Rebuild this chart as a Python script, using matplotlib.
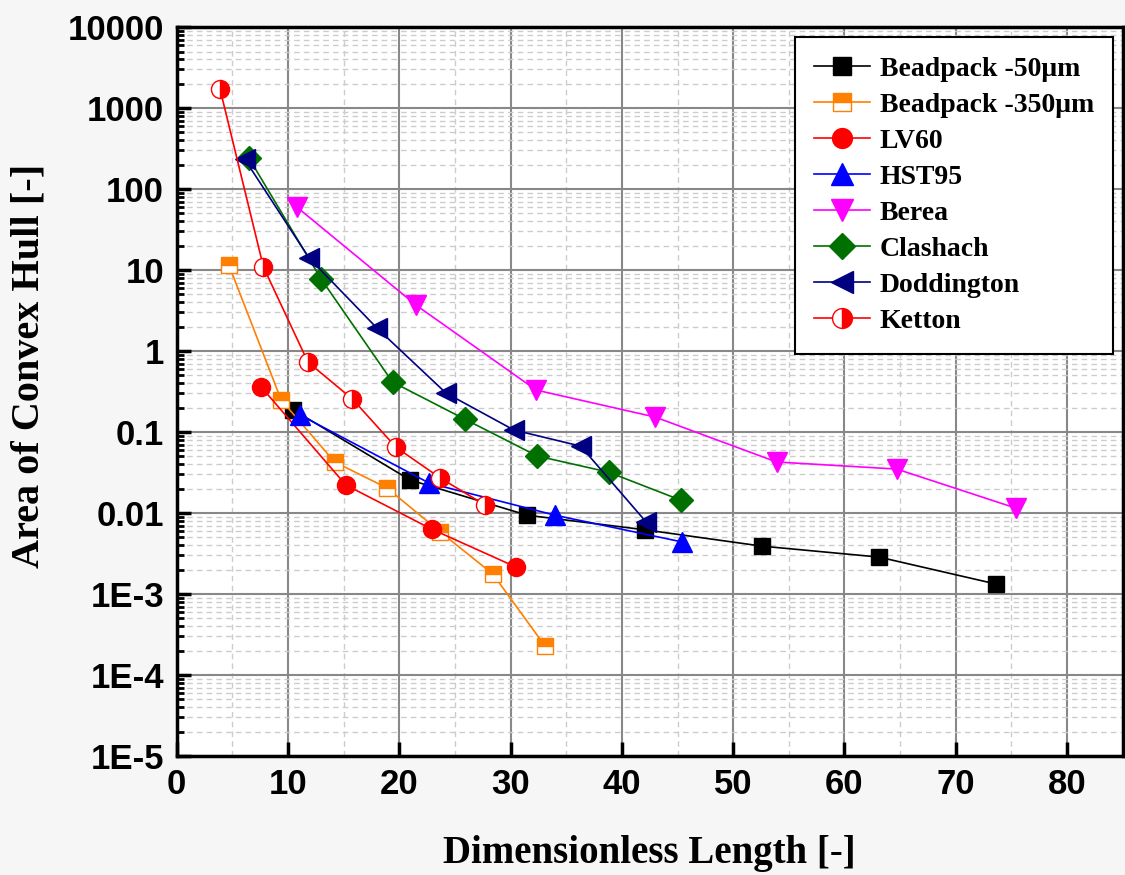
import matplotlib.pyplot as plt
from matplotlib.ticker import LogLocator, FixedLocator, NullFormatter

# data
bead50_x = [10.5, 21.0, 31.5, 42.1, 52.6, 63.1, 73.6]
bead50_y = [0.187, 0.0255, 0.0094, 0.0062, 0.0039, 0.00286, 0.00133]

bead350_x = [4.7, 9.4, 14.2, 18.9, 23.7, 28.4, 33.1]
bead350_y = [11.5, 0.248, 0.0427, 0.0204, 0.00582, 0.00177, 0.000228]

lv60_x = [7.6, 15.2, 22.9, 30.5]
lv60_y = [0.36, 0.0222, 0.00634, 0.00215]

hst95_x = [11.1, 22.7, 34.0, 45.4]
hst95_y = [0.162, 0.0234, 0.0094, 0.0044]

berea_x = [10.8, 21.5, 32.3, 43.0, 53.9, 64.7, 75.4]
berea_y = [60, 3.7, 0.33, 0.153, 0.0427, 0.0349, 0.0115]

clashach_x = [6.5, 13.0, 19.4, 25.9, 32.4, 38.8, 45.3]
clashach_y = [241, 7.7, 0.414, 0.144, 0.0506, 0.032, 0.0144]

dodd_x = [6.1, 11.9, 18.0, 24.2, 30.3, 36.3, 42.2]
dodd_y = [236, 14.1, 1.92, 0.303, 0.106, 0.067, 0.0077]

ketton_x = [3.9, 7.8, 11.8, 15.8, 19.7, 23.7, 27.7]
ketton_y = [1718, 10.9, 0.73, 0.255, 0.065, 0.027, 0.0126]

serif = "Liberation Serif"
sans = "Liberation Sans"

fig = plt.figure(figsize=(11.25, 8.75), dpi=100, facecolor="#f6f6f6")
ax = fig.add_axes([0.157, 0.136, 0.841, 0.833])
ax.set_facecolor("white")

lw = 1.2
ax.plot(bead50_x, bead50_y, "-s", color="black", lw=lw, ms=12,
        label="Beadpack -50\u03bcm", zorder=3)
ax.plot(bead350_x, bead350_y, "-s", color="#ff7f00", lw=lw, ms=12,
        fillstyle="top", markerfacecoloralt="white", mec="#ff7f00",
        label="Beadpack -350\u03bcm", zorder=3)
ax.plot(lv60_x, lv60_y, "-o", color="red", lw=lw, ms=13,
        label="LV60", zorder=3)
ax.plot(hst95_x, hst95_y, "-^", color="blue", lw=lw, ms=14,
        label="HST95", zorder=3)
ax.plot(berea_x, berea_y, "-v", color="magenta", lw=lw, ms=14,
        label="Berea", zorder=3)
ax.plot(clashach_x, clashach_y, "-D", color="#007000", lw=lw, ms=12,
        label="Clashach", zorder=3)
ax.plot(dodd_x, dodd_y, "-<", color="#000080", lw=lw, ms=14,
        label="Doddington", zorder=3)
ax.plot(ketton_x, ketton_y, "-o", color="red", lw=lw, ms=13,
        fillstyle="right", markerfacecoloralt="white", mec="red",
        label="Ketton", zorder=3)

ax.set_yscale("log")
ax.set_xlim(0, 85)
ax.set_ylim(1e-5, 1e4)

ax.set_xticks(range(0, 90, 10))
ax.xaxis.set_minor_locator(FixedLocator(range(5, 90, 10)))
ax.yaxis.set_major_locator(LogLocator(base=10, numticks=20))
ax.yaxis.set_minor_locator(LogLocator(base=10, subs=range(2, 10), numticks=20))
ax.yaxis.set_minor_formatter(NullFormatter())

ylabels = {1e4: "10000", 1e3: "1000", 1e2: "100", 1e1: "10", 1: "1",
           0.1: "0.1", 0.01: "0.01", 1e-3: "1E-3", 1e-4: "1E-4", 1e-5: "1E-5"}
yt = sorted(ylabels)
ax.set_yticks(yt)
ax.set_yticklabels([ylabels[v] for v in yt])

ax.grid(which="major", color="#888888", lw=1.5, ls="-", zorder=0)
ax.grid(which="minor", color="#cccccc", lw=1.0, ls=(0, (4, 3)), zorder=0)
ax.set_axisbelow(True)

ax.tick_params(which="major", direction="in", length=10, width=2.5,
               labelsize=25, pad=9)
ax.tick_params(which="minor", direction="in", length=5, width=2)
ax.tick_params(axis="x", which="minor", length=0)
for lab in ax.get_xticklabels() + ax.get_yticklabels():
    lab.set_fontfamily(sans)
    lab.set_fontweight("bold")

for s in ax.spines.values():
    s.set_linewidth(2.5)

ax.set_xlabel("Dimensionless Length [-]", fontsize=28, fontweight="bold",
              family=serif, labelpad=24)
ax.set_ylabel("Area of Convex Hull [-]", fontsize=29, fontweight="bold",
              family=serif)
ax.yaxis.set_label_coords(-0.136, 0.535)

leg = ax.legend(loc="upper right", bbox_to_anchor=(0.99, 0.986),
                prop={"family": serif, "weight": "bold", "size": 20},
                fancybox=False, framealpha=1, edgecolor="black",
                borderpad=0.7, labelspacing=0.38, handlelength=2.0,
                handletextpad=0.35, borderaxespad=0, markerscale=1.1)
leg.get_frame().set_linewidth(1.5)

fig.savefig("out.png", dpi=100, facecolor=fig.get_facecolor())
